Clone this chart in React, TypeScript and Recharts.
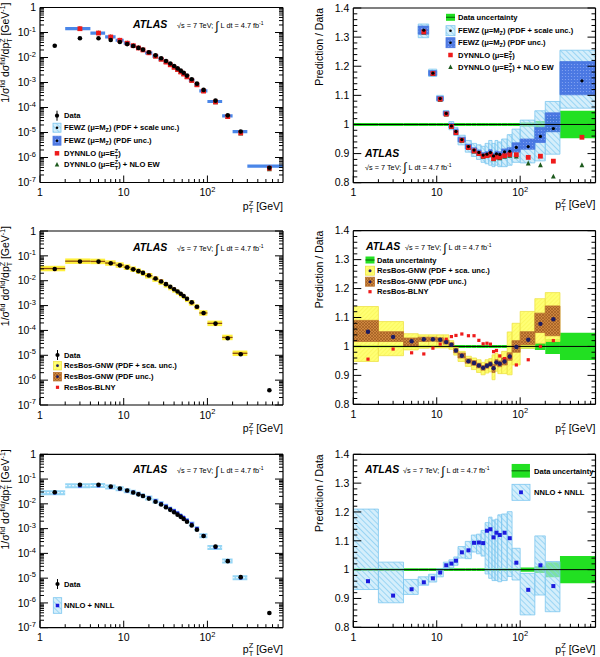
import React from "react"
import { ComposedChart, XAxis, YAxis, Scatter, ReferenceArea, ReferenceLine } from "recharts"

const FONT = "'Liberation Sans', Arial, Helvetica, sans-serif"
const PAGE_W = 600
const PAGE_H = 657

// pT bins [GeV]
const binLo = [0, 2, 4, 6, 8, 10, 12, 14, 16, 18, 22, 26, 30, 34, 38, 42, 46, 50, 54, 60, 70, 80, 100, 150, 200, 300]
const binHi = [2, 4, 6, 8, 10, 12, 14, 16, 18, 22, 26, 30, 34, 38, 42, 46, 50, 54, 60, 70, 80, 100, 150, 200, 300, 800]
const binMid = [1.5, 3, 5, 7, 9, 11, 13, 15, 17, 20, 24, 28, 32, 36, 40, 44, 48, 52, 57, 65, 75, 90, 125, 175, 250, 550]

// measured 1/sigma dsigma/dpT [GeV^-1] and relative uncertainty
const dataXs = [
  0.0294, 0.0591, 0.0587, 0.0502, 0.0416, 0.0344, 0.0287, 0.0242, 0.0206, 0.0163, 0.0122, 0.00935, 0.00728,
  0.00573, 0.00456, 0.00367, 0.00298, 0.00244, 0.00189, 0.00135, 0.0009, 0.000505, 0.000188, 0.0000485, 0.000011,
  3.9e-7,
]
const dataRelUnc = [
  0.005, 0.005, 0.005, 0.005, 0.005, 0.005, 0.005, 0.005, 0.005, 0.005, 0.005, 0.005, 0.005, 0.005, 0.005, 0.005,
  0.005, 0.005, 0.005, 0.005, 0.005, 0.005, 0.007, 0.012, 0.026, 0.047,
]

type Val = number | null

// prediction / data
const fewz: Val[] = [null, 2.4, 1.62, 1.324, 1.176, 1.089, 1.038, 0.995, 0.976, 0.948, 0.924, 0.912, 0.904, 0.895, 0.898, 0.904, 0.892, 0.899, 0.897, 0.906, 0.908, 0.921, 0.924, 0.959, 0.986, 1.15]
const fewzScaleLo: Val[] = [null, null, null, 1.298, 1.165, 1.08, 1.03, 0.982, 0.962, 0.93, 0.905, 0.89, 0.88, 0.87, 0.865, 0.86, 0.855, 0.86, 0.855, 0.855, 0.86, 0.87, 0.868, 0.875, 0.898, 1.056]
const fewzScaleHi: Val[] = [null, null, null, 1.345, 1.19, 1.1, 1.048, 1.01, 0.99, 0.963, 0.945, 0.935, 0.93, 0.925, 0.935, 0.945, 0.935, 0.945, 0.94, 0.95, 0.965, 0.984, 1.015, 1.047, 1.079, 1.255]
const fewzPdfLo: Val[] = [null, null, null, 1.31, 1.168, 1.082, 1.032, 0.988, 0.968, 0.94, 0.916, 0.903, 0.896, 0.887, 0.89, 0.895, 0.883, 0.89, 0.888, 0.896, 0.897, 0.905, 0.915, 0.938, 0.975, 1.102]
const fewzPdfHi: Val[] = [null, null, null, 1.338, 1.185, 1.096, 1.045, 1.003, 0.984, 0.956, 0.932, 0.92, 0.912, 0.903, 0.906, 0.913, 0.901, 0.908, 0.906, 0.916, 0.92, 0.937, 0.95, 0.99, 1.04, 1.216]
const dynnlo: Val[] = [null, 2.4, 1.62, 1.318, 1.175, 1.087, 1.036, 0.993, 0.972, 0.946, 0.921, 0.909, 0.9, 0.891, 0.893, 0.897, 0.883, 0.889, 0.888, 0.893, 0.897, 0.896, 0.887, 0.891, 0.874, 0.956]
const dynnloEw: Val[] = [null, 2.39, 1.61, 1.316, 1.173, 1.085, 1.034, 0.991, 0.97, 0.944, 0.919, 0.907, 0.898, 0.889, 0.891, 0.894, 0.88, 0.886, 0.884, 0.889, 0.892, 0.89, 0.866, 0.86, 0.821, 0.86]

const gnw: Val[] = [1.051, 1.033, 1.018, 1.025, 1.025, 1.023, 1.015, 1.006, 0.986, 0.968, 0.949, 0.943, 0.934, 0.926, 0.933, 0.939, 0.925, 0.945, 0.94, 0.948, 0.965, 0.998, 1.023, 1.078, 1.094, null]
const gnwScaleLo: Val[] = [0.948, 0.968, 0.988, 0.994, 0.995, 0.995, 0.995, 0.99, 0.97, 0.948, 0.931, 0.92, 0.91, 0.902, 0.908, 0.912, 0.885, 0.914, 0.906, 0.906, 0.902, 0.936, 0.994, 1.011, 1.017, null]
const gnwScaleHi: Val[] = [1.138, 1.086, 1.044, 1.04, 1.04, 1.04, 1.04, 1.02, 0.998, 0.983, 0.966, 0.96, 0.954, 0.945, 0.954, 0.958, 0.971, 0.977, 0.971, 0.983, 1.05, 1.08, 1.121, 1.165, 1.186, null]
const gnwPdfLo: Val[] = [1.017, 1.017, 1.0, 1.017, 1.018, 1.016, 1.008, 0.999, 0.978, 0.96, 0.942, 0.935, 0.926, 0.918, 0.925, 0.931, 0.91, 0.935, 0.93, 0.936, 0.952, 0.98, 1.006, 1.048, 1.037, null]
const gnwPdfHi: Val[] = [1.09, 1.051, 1.029, 1.032, 1.032, 1.03, 1.022, 1.013, 0.994, 0.977, 0.957, 0.951, 0.942, 0.934, 0.941, 0.947, 0.937, 0.955, 0.95, 0.96, 0.978, 1.02, 1.051, 1.115, 1.14, null]
const blny: Val[] = [0.956, 0.991, 0.978, 0.974, 0.994, 1.008, 1.025, 1.034, 1.038, 1.043, 1.037, 1.037, 1.021, 1.009, 1.011, 1.008, 0.982, 0.986, 0.967, 0.958, 0.962, 0.936, 0.954, 1.0, 1.02, null]

const nnll: Val[] = [0.96, 0.91, 0.932, 0.956, 0.97, 0.99, 1.015, 1.021, 1.031, 1.06, 1.067, 1.093, 1.094, 1.092, 1.135, 1.14, 1.112, 1.128, 1.12, 1.128, 1.109, 1.024, 0.93, 1.015, 0.943, null]
const nnllLo: Val[] = [0.931, 0.885, 0.914, 0.946, 0.957, 0.975, 1.003, 1.006, 1.015, 1.04, 1.038, 1.061, 1.055, 1.047, 0.985, 0.97, 0.962, 0.962, 0.958, 0.962, 0.976, 0.964, 0.843, 0.912, 0.854, null]
const nnllHi: Val[] = [1.21, 1.026, 0.966, 0.975, 0.984, 1.003, 1.026, 1.034, 1.044, 1.08, 1.098, 1.12, 1.123, 1.136, 1.163, 1.182, 1.172, 1.175, 1.19, 1.193, 1.201, 1.074, 0.987, 1.117, 1.028, null]

// axes
const X_MIN = 1
const X_MAX = 800
const X_MAJOR = [1, 10, 100]
const LOG_MAJOR = [1e-7, 1e-6, 1e-5, 1e-4, 1e-3, 1e-2, 1e-1, 1]
const RATIO_MAJOR = [0.8, 0.9, 1, 1.1, 1.2, 1.3, 1.4]
const RATIO_MIN = 0.8
const RATIO_MAX = 1.4

const STEPS = [1, 2, 3, 4, 5, 6, 7, 8, 9]
const X_TICKS = X_MAJOR.flatMap((d) => STEPS.map((m) => m * d)).filter((v) => v < X_MAX)
const LOG_TICKS = LOG_MAJOR.flatMap((d) => (d === 1 ? [1] : STEPS.map((m) => Number((m * d).toPrecision(2)))))
const RATIO_TICKS = RATIO_MAJOR.flatMap((v, i) =>
  i === RATIO_MAJOR.length - 1 ? [v] : [0, 1, 2, 3, 4].map((k) => Number((v + k * 0.02).toFixed(2)))
)

const GREEN = "#22e022"
const RED = "#ee1b1b"
const DKGREEN = "#1d5a1d"
const NAVY = "#1c1c62"
const BLUE_SQ = "#1b1bdd"
const LB_STROKE = "#7cc6ef"
const DB_STROKE = "#4a78e0"
const Y_STROKE = "#eee24a"
const OR_STROKE = "#bb7230"

type Frame = { l: number; r: number; t: number; b: number }
const TL: Frame = { l: 40, r: 283, t: 7.5, b: 182.5 }
const TR: Frame = { l: 353.3, r: 595.5, t: 8, b: 182.7 }
const ML: Frame = { l: 40, r: 283, t: 231, b: 405 }
const MR: Frame = { l: 353.3, r: 595.5, t: 230.7, b: 404.3 }
const BL: Frame = { l: 40, r: 283, t: 454.3, b: 627.7 }
const BR: Frame = { l: 353.3, r: 595.5, t: 454.3, b: 627.3 }

const bins = binLo.map((lo, i) => ({ lo: Math.max(lo, X_MIN), hi: binHi[i] }))

const isDecade = (v: number) => Math.abs(Math.log10(v) - Math.round(Math.log10(v))) < 1e-9

function xTick(mirror: boolean) {
  return (p: any) => {
    const v: number = p.payload.value
    const major = X_MAJOR.includes(v)
    const len = major ? 7 : 3.5
    return (
      <g>
        <line x1={p.x} x2={p.x} y1={p.y} y2={p.y + (mirror ? len : -len)} stroke="#000" strokeWidth={1} />
        {!mirror && major && (
          <text x={p.x} y={p.y + 13.5} textAnchor="middle" fontSize={10.5} fontFamily={FONT}>
            {v === 100 ? (
              <>
                10<tspan dy={-4.5} fontSize={7.5}>2</tspan>
              </>
            ) : (
              String(v)
            )}
          </text>
        )}
      </g>
    )
  }
}

function yTick(log: boolean, mirror: boolean) {
  return (p: any) => {
    const v: number = p.payload.value
    const major = log ? isDecade(v) : RATIO_MAJOR.some((m) => Math.abs(m - v) < 1e-6)
    const len = major ? 8 : 4
    let label: React.ReactNode = String(v)
    if (log && v !== 1) {
      label = (
        <>
          10<tspan dy={-4.5} fontSize={7.5}>{String(Math.round(Math.log10(v)))}</tspan>
        </>
      )
    }
    return (
      <g>
        <line x1={p.x} x2={p.x + (mirror ? -len : len)} y1={p.y} y2={p.y} stroke="#000" strokeWidth={1} />
        {!mirror && major && (
          <text x={p.x - 4} y={p.y + 3.7} textAnchor="end" fontSize={10.5} fontFamily={FONT}>
            {label}
          </text>
        )}
      </g>
    )
  }
}

const AXIS_LINE = { stroke: "#000", strokeWidth: 1.2 }
// axes get a 1px box; the frame still sits on the plot edge
const AX = 1

function Panel({ f, log, children }: { f: Frame; log: boolean; children: React.ReactNode }) {
  const common = {
    type: "number" as const,
    allowDataOverflow: true,
    interval: 0 as const,
    tickSize: 0,
    tickMargin: 0,
    tickLine: false,
    axisLine: AXIS_LINE,
  }
  const xProps = { ...common, scale: "log" as const, domain: [X_MIN, X_MAX], ticks: X_TICKS, height: AX }
  const yProps = {
    ...common,
    scale: (log ? "log" : "linear") as any,
    domain: log ? [1e-7, 1] : [RATIO_MIN, RATIO_MAX],
    ticks: log ? LOG_TICKS : RATIO_TICKS,
    width: AX,
  }
  return (
    <div style={{ position: "absolute", left: 0, top: 0 }}>
      <ComposedChart
        width={PAGE_W}
        height={PAGE_H}
        margin={{ top: f.t - AX, right: PAGE_W - f.r - AX, bottom: PAGE_H - f.b - AX, left: f.l - AX }}
      >
        <XAxis {...xProps} dataKey="x" tick={xTick(false)} />
        <XAxis {...xProps} xAxisId="top" orientation="top" tick={xTick(true)} />
        <YAxis {...yProps} dataKey="y" tick={yTick(log, false)} />
        <YAxis {...yProps} yAxisId="right" orientation="right" tick={yTick(log, true)} />
        {children}
      </ComposedChart>
    </div>
  )
}

// ---- elements built from the arrays ----

function boxes(key: string, lo: Val[], hi: Val[], fill: string, stroke: string) {
  return bins.flatMap((b, i) => {
    const y1 = lo[i]
    const y2 = hi[i]
    if (y1 == null || y2 == null) return []
    return [
      <ReferenceArea
        key={key + i}
        x1={b.lo}
        x2={b.hi}
        y1={y1}
        y2={y2}
        fill={fill}
        fillOpacity={1}
        stroke={stroke}
        strokeWidth={0.8}
        ifOverflow="hidden"
      />,
    ]
  })
}

const dataUncLo = dataRelUnc.map((u) => 1 - u)
const dataUncHi = dataRelUnc.map((u) => 1 + u)

function dataBand(key: string) {
  return [
    ...boxes(key, dataUncLo, dataUncHi, GREEN, "none"),
    <ReferenceLine key={key + "one"} y={1} stroke="#000" strokeWidth={1} ifOverflow="hidden" />,
  ]
}

// horizontal bars of the prediction on the cross-section panels
function bars(key: string, ratio: Val[], color: string, width: number, dash?: string) {
  return bins.flatMap((b, i) => {
    const r = ratio[i]
    if (r == null) return []
    const y = dataXs[i] * r
    return [
      <ReferenceLine
        key={key + i}
        segment={[
          { x: b.lo, y },
          { x: b.hi, y },
        ]}
        stroke={color}
        strokeWidth={width}
        strokeDasharray={dash}
        ifOverflow="hidden"
      />,
    ]
  })
}

const ratioPoints = (vals: Val[]) =>
  vals.flatMap((v, i) => (v == null || v < RATIO_MIN || v > RATIO_MAX ? [] : [{ x: binMid[i], y: v }]))
const xsPoints = (vals: Val[]) => vals.flatMap((v, i) => (v == null ? [] : [{ x: binMid[i], y: dataXs[i] * v }]))
const dataPoints = dataXs.map((y, i) => ({ x: binMid[i], y }))

const dot = (r: number, fill: string) => (p: any) => <circle cx={p.cx} cy={p.cy} r={r} fill={fill} />
const square = (s: number, fill: string) => (p: any) =>
  <rect x={p.cx - s / 2} y={p.cy - s / 2} width={s} height={s} fill={fill} />
const triangle = (s: number, fill: string) => (p: any) =>
  (
    <polygon
      points={`${p.cx},${p.cy - s * 0.6} ${p.cx - s / 2},${p.cy + s * 0.4} ${p.cx + s / 2},${p.cy + s * 0.4}`}
      fill={fill}
    />
  )

// ---- annotation helpers ----

function Atlas({ x, y, sx, sy }: { x: number; y: number; sx: number; sy: number }) {
  return (
    <>
      <text x={x} y={y} fontSize={10.5} fontWeight="bold" fontStyle="italic" fontFamily={FONT}>
        ATLAS
      </text>
      <text x={sx} y={sy} fontSize={7.3} fontFamily={FONT}>
        √s = 7 TeV;{" "}
        <tspan fontSize={12} dy={1.5}>
          ∫
        </tspan>
        <tspan dy={-1.5}> L dt = 4.7 fb</tspan>
        <tspan dy={-3} fontSize={5}>
          -1
        </tspan>
      </text>
    </>
  )
}

function XTitle({ f, y }: { f: Frame; y: number }) {
  return (
    <text x={f.r} y={y} textAnchor="end" fontSize={10.5} fontFamily={FONT}>
      p<tspan dy={-4.5} fontSize={7.5}>Z</tspan>
      <tspan dx={-4.6} dy={7.5} fontSize={7.5}>
        T
      </tspan>
      <tspan dy={-3}> [GeV]</tspan>
    </text>
  )
}

function XsTitle({ f }: { f: Frame }) {
  return (
    <text transform="rotate(-90)" x={-(f.t - 5)} y={9} textAnchor="end" fontSize={10.5} fontFamily={FONT}>
      1/σ<tspan dy={-4} fontSize={7}>fid</tspan>
      <tspan dy={4}> dσ</tspan>
      <tspan dy={-4} fontSize={7}>fid</tspan>
      <tspan dy={4}>/dp</tspan>
      <tspan dy={-4} fontSize={7}>Z</tspan>
      <tspan dx={-4.3} dy={7} fontSize={7}>T</tspan>
      <tspan dy={-3}> [GeV</tspan>
      <tspan dy={-4} fontSize={7}>-1</tspan>
      <tspan dy={4}>]</tspan>
    </text>
  )
}

function RatioTitle({ f }: { f: Frame }) {
  return (
    <text transform="rotate(-90)" x={-f.t} y={323} textAnchor="end" fontSize={10.5} fontFamily={FONT}>
      Prediction / Data
    </text>
  )
}

function LegText({ x, y, children }: { x: number; y: number; children: React.ReactNode }) {
  return (
    <text x={x} y={y + 2.7} fontSize={7.6} fontWeight="bold" fontFamily={FONT}>
      {children}
    </text>
  )
}

const SubZ = ({ rest }: { rest: string }) => (
  <>
    <tspan dy={2} fontSize={5.5}>
      Z
    </tspan>
    <tspan dy={-2}>{rest}</tspan>
  </>
)
const SupSubET = ({ rest }: { rest: string }) => (
  <>
    <tspan dy={-3} fontSize={5.5}>
      Z
    </tspan>
    <tspan dx={-3.4} dy={5.5} fontSize={5.5}>
      T
    </tspan>
    <tspan dy={-2.5}>{rest}</tspan>
  </>
)

const DataSym = ({ x, y }: { x: number; y: number }) => (
  <g>
    <line x1={x} x2={x} y1={y - 5} y2={y + 5} stroke="#000" strokeWidth={1} />
    <circle cx={x} cy={y} r={2.1} fill="#000" />
  </g>
)
const BoxSym = ({ x, y, w, h, fill, stroke }: { x: number; y: number; w: number; h: number; fill: string; stroke: string }) => (
  <rect x={x - w / 2} y={y - h / 2} width={w} height={h} fill={fill} stroke={stroke} strokeWidth={0.8} />
)
const GreenSym = ({ x, y, w, h }: { x: number; y: number; w: number; h: number }) => (
  <g>
    <rect x={x - w / 2} y={y - h / 2} width={w} height={h} fill={GREEN} />
    <line x1={x - w / 2} x2={x + w / 2} y1={y} y2={y} stroke="#0b6e0b" strokeWidth={1.2} />
  </g>
)
const Sq = ({ x, y, s, fill }: { x: number; y: number; s: number; fill: string }) => (
  <rect x={x - s / 2} y={y - s / 2} width={s} height={s} fill={fill} />
)
const Tri = ({ x, y, s, fill }: { x: number; y: number; s: number; fill: string }) => (
  <polygon points={`${x},${y - s * 0.6} ${x - s / 2},${y + s * 0.4} ${x + s / 2},${y + s * 0.4}`} fill={fill} />
)

function Patterns() {
  return (
    <svg width={0} height={0} style={{ position: "absolute" }}>
      <defs>
        <pattern id="hatchLB" width="4" height="4" patternUnits="userSpaceOnUse" patternTransform="rotate(-45)">
          <rect width="4" height="4" fill="#b7e2f8" fillOpacity="0.6" />
          <line x1="0" y1="0" x2="0" y2="4" stroke="#86cdf2" strokeWidth="1.5" />
        </pattern>
        <pattern id="dotsDB" width="3" height="3" patternUnits="userSpaceOnUse">
          <rect width="3" height="3" fill="#3a68df" fillOpacity="0.88" />
          <circle cx="1.5" cy="1.5" r="0.6" fill="#86a6f2" />
        </pattern>
        <pattern id="hatchY" width="3" height="3" patternUnits="userSpaceOnUse" patternTransform="rotate(45)">
          <rect width="3" height="3" fill="#ffff55" fillOpacity="0.82" />
          <line x1="0" y1="0" x2="0" y2="3" stroke="#f6ee44" strokeWidth="0.8" />
        </pattern>
        <pattern id="crossOr" width="3" height="3" patternUnits="userSpaceOnUse">
          <rect width="3" height="3" fill="#cd863e" />
          <path d="M0,0 L3,3 M3,0 L0,3" stroke="#98561d" strokeWidth="0.6" />
        </pattern>
      </defs>
    </svg>
  )
}

function Annotations() {
  return (
    <svg
      width={PAGE_W}
      height={PAGE_H}
      style={{ position: "absolute", left: 0, top: 0, pointerEvents: "none" }}
    >
      {/* top row */}
      <Atlas x={133} y={28} sx={177} sy={28} />
      <XsTitle f={TL} />
      <XTitle f={TL} y={210} />
      <DataSym x={57} y={115.7} />
      <LegText x={64} y={115.7}>Data</LegText>
      <BoxSym x={57} y={127.7} w={8} h={9} fill="url(#hatchLB)" stroke={LB_STROKE} />
      <circle cx={57} cy={127.7} r={1.3} fill="#000" />
      <LegText x={64} y={127.7}>
        FEWZ (μ=M<SubZ rest=") (PDF + scale unc.)" />
      </LegText>
      <BoxSym x={57} y={140.7} w={8} h={9} fill="url(#dotsDB)" stroke={DB_STROKE} />
      <circle cx={57} cy={140.7} r={1.3} fill="#000" />
      <LegText x={64} y={140.7}>
        FEWZ (μ=M<SubZ rest=") (PDF unc.)" />
      </LegText>
      <Sq x={57} y={153.3} s={4.5} fill={RED} />
      <LegText x={64} y={153.3}>
        DYNNLO (μ=E<SupSubET rest=")" />
      </LegText>
      <Tri x={57} y={164.7} s={4.5} fill={DKGREEN} />
      <LegText x={64} y={164.7}>
        DYNNLO (μ=E<SupSubET rest=") + NLO EW" />
      </LegText>

      <Atlas x={365} y={156.5} sx={365} sy={169.5} />
      <RatioTitle f={TR} />
      <XTitle f={TR} y={208} />
      <GreenSym x={450.5} y={17.3} w={9} h={7} />
      <LegText x={458} y={17.3}>Data uncertainty</LegText>
      <BoxSym x={450.5} y={30.7} w={9} h={10} fill="url(#hatchLB)" stroke={LB_STROKE} />
      <circle cx={450.5} cy={30.7} r={1.3} fill="#000" />
      <LegText x={458} y={30.7}>
        FEWZ (μ=M<SubZ rest=") (PDF + scale unc.)" />
      </LegText>
      <BoxSym x={450.5} y={42.7} w={9} h={10} fill="url(#dotsDB)" stroke={DB_STROKE} />
      <circle cx={450.5} cy={42.7} r={1.3} fill="#000" />
      <LegText x={458} y={42.7}>
        FEWZ (μ=M<SubZ rest=") (PDF unc.)" />
      </LegText>
      <Sq x={450.5} y={55} s={4.5} fill={RED} />
      <LegText x={458} y={55}>
        DYNNLO (μ=E<SupSubET rest=")" />
      </LegText>
      <Tri x={450.5} y={67.3} s={4.5} fill={DKGREEN} />
      <LegText x={458} y={67.3}>
        DYNNLO (μ=E<SupSubET rest=") + NLO EW" />
      </LegText>

      {/* middle row */}
      <Atlas x={133} y={251} sx={177} sy={251} />
      <XsTitle f={ML} />
      <XTitle f={ML} y={432} />
      <DataSym x={57.5} y={355} />
      <LegText x={64} y={355}>Data</LegText>
      <BoxSym x={57.5} y={365.7} w={8} h={8.5} fill="url(#hatchY)" stroke={Y_STROKE} />
      <circle cx={57.5} cy={365.7} r={1.4} fill={NAVY} />
      <LegText x={64} y={365.7}>ResBos-GNW (PDF + sca. unc.)</LegText>
      <BoxSym x={57.5} y={376.7} w={8} h={8.5} fill="url(#crossOr)" stroke={OR_STROKE} />
      <circle cx={57.5} cy={376.7} r={1.4} fill={NAVY} />
      <LegText x={64} y={376.7}>ResBos-GNW (PDF unc.)</LegText>
      <Sq x={57.5} y={387.3} s={3.2} fill={RED} />
      <LegText x={64} y={387.3}>ResBos-BLNY</LegText>

      <Atlas x={366} y={250} sx={405} sy={250} />
      <RatioTitle f={MR} />
      <XTitle f={MR} y={432} />
      <GreenSym x={370} y={260} w={9} h={7} />
      <LegText x={377} y={260}>Data uncertainty</LegText>
      <BoxSym x={370} y={270.7} w={9} h={9} fill="url(#hatchY)" stroke={Y_STROKE} />
      <circle cx={370} cy={270.7} r={1.5} fill={NAVY} />
      <LegText x={377} y={270.7}>ResBos-GNW (PDF + sca. unc.)</LegText>
      <BoxSym x={370} y={281.7} w={9} h={9} fill="url(#crossOr)" stroke={OR_STROKE} />
      <circle cx={370} cy={281.7} r={1.5} fill={NAVY} />
      <LegText x={377} y={281.7}>ResBos-GNW (PDF unc.)</LegText>
      <Sq x={370} y={291.7} s={3.2} fill={RED} />
      <LegText x={377} y={291.7}>ResBos-BLNY</LegText>

      {/* bottom row */}
      <Atlas x={133} y={473} sx={177} sy={473} />
      <XsTitle f={BL} />
      <XTitle f={BL} y={652.5} />
      <DataSym x={57.5} y={584} />
      <LegText x={64} y={584}>Data</LegText>
      <BoxSym x={57.5} y={605.5} w={8.4} h={15.6} fill="url(#hatchLB)" stroke={LB_STROKE} />
      <Sq x={57.5} y={605.5} s={3.5} fill={BLUE_SQ} />
      <LegText x={64} y={605.5}>NNLO + NNLL</LegText>

      <Atlas x={365} y={473} sx={403} sy={473} />
      <RatioTitle f={BR} />
      <XTitle f={BR} y={652.5} />
      <GreenSym x={520.8} y={470.8} w={18.3} h={13.7} />
      <LegText x={534} y={470.8}>Data uncertainty</LegText>
      <BoxSym x={521} y={492.3} w={18} h={16} fill="url(#hatchLB)" stroke={LB_STROKE} />
      <Sq x={521} y={492.3} s={3.8} fill={BLUE_SQ} />
      <LegText x={534} y={492.3}>NNLO + NNLL</LegText>
    </svg>
  )
}

export default function App() {
  return (
    <div style={{ position: "absolute", left: 0, top: 0, width: PAGE_W, height: PAGE_H, background: "#fff" }}>
      <Patterns />

      {/* fixed-order predictions vs data */}
      <Panel f={TL} log>
        {bars("fewz", fewz, "#4a86e8", 3.2)}
        <Scatter data={xsPoints(dynnloEw)} shape={triangle(4.8, DKGREEN)} isAnimationActive={false} />
        <Scatter data={xsPoints(dynnlo)} shape={square(4.8, RED)} isAnimationActive={false} />
        <Scatter data={dataPoints} shape={dot(2.3, "#000")} isAnimationActive={false} />
      </Panel>
      <Panel f={TR} log={false}>
        {dataBand("unc")}
        {boxes("fs", fewzScaleLo, fewzScaleHi, "url(#hatchLB)", LB_STROKE)}
        {boxes("fp", fewzPdfLo, fewzPdfHi, "url(#dotsDB)", DB_STROKE)}
        <Scatter data={ratioPoints(dynnloEw)} shape={triangle(4.8, DKGREEN)} isAnimationActive={false} />
        <Scatter data={ratioPoints(dynnlo)} shape={square(4.8, RED)} isAnimationActive={false} />
        <Scatter data={ratioPoints(fewz)} shape={dot(1.6, "#000")} isAnimationActive={false} />
      </Panel>

      {/* ResBos */}
      <Panel f={ML} log>
        {bars("gs", gnw, "#fff03c", 5.5)}
        {bars("gp", gnw, "#8a4a12", 1.3)}
        <Scatter data={xsPoints(blny)} shape={square(3, RED)} isAnimationActive={false} />
        <Scatter data={dataPoints} shape={dot(2.3, "#000")} isAnimationActive={false} />
      </Panel>
      <Panel f={MR} log={false}>
        {dataBand("unc")}
        {boxes("gs", gnwScaleLo, gnwScaleHi, "url(#hatchY)", Y_STROKE)}
        {boxes("gp", gnwPdfLo, gnwPdfHi, "url(#crossOr)", OR_STROKE)}
        <Scatter data={ratioPoints(blny)} shape={square(3.2, RED)} isAnimationActive={false} />
        <Scatter data={ratioPoints(gnw)} shape={dot(2.2, NAVY)} isAnimationActive={false} />
      </Panel>

      {/* NNLO + NNLL */}
      <Panel f={BL} log>
        {bars("nb", nnll, "#96d6f5", 5)}
        {bars("nw", nnll, "#ffffff", 1, "2 1.5")}
        <Scatter data={xsPoints(nnll)} shape={square(3.5, BLUE_SQ)} isAnimationActive={false} />
        <Scatter data={dataPoints} shape={dot(2.3, "#000")} isAnimationActive={false} />
      </Panel>
      <Panel f={BR} log={false}>
        {dataBand("unc")}
        {boxes("nn", nnllLo, nnllHi, "url(#hatchLB)", LB_STROKE)}
        <Scatter data={ratioPoints(nnll)} shape={square(4, BLUE_SQ)} isAnimationActive={false} />
      </Panel>

      <Annotations />
    </div>
  )
}
